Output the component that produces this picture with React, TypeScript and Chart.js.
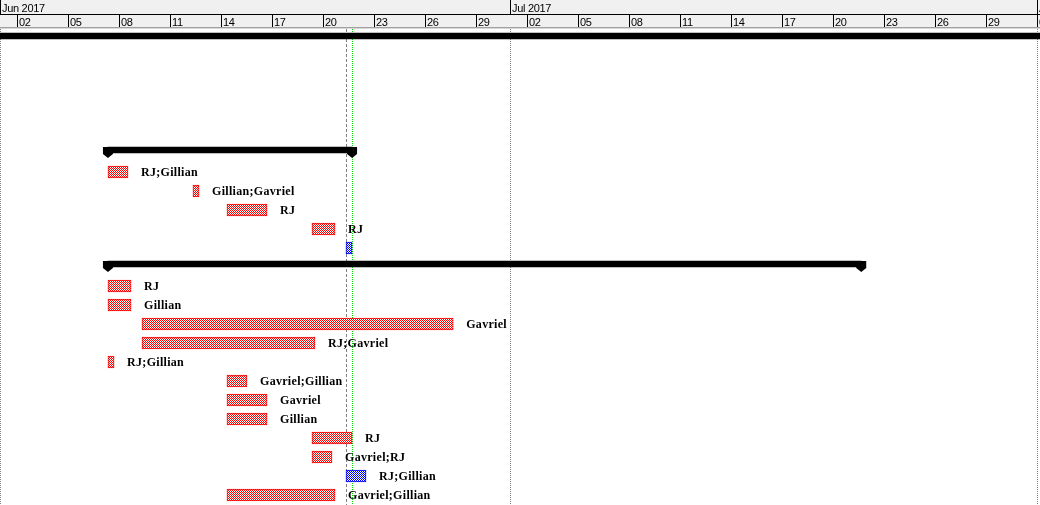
import React, { useEffect, useRef } from 'react';
import { Chart, registerables } from 'chart.js';

Chart.register(...registerables);

// ---- rows (categories), top to bottom ----
const rowLabels = [
  'Project', 'Blank 1', 'Blank 2', 'Blank 3', 'Blank 4', 'Blank 5',
  'Summary 1', 'Task 1.1', 'Task 1.2', 'Task 1.3', 'Task 1.4', 'Task 1.5',
  'Summary 2', 'Task 2.1', 'Task 2.2', 'Task 2.3', 'Task 2.4', 'Task 2.5', 'Task 2.6',
  'Task 2.7', 'Task 2.8', 'Task 2.9', 'Task 2.10', 'Task 2.11', 'Task 2.12',
];

// ---- values in days since 1 Jun 2017 00:00 ----
const summaryRows = ['Project', 'Summary 1', 'Summary 2'];
const summaryStart = [-3, 6.35, 6.35];
const summaryEnd = [64, 20.71, 50.66];

const taskRows = [
  'Task 1.1', 'Task 1.2', 'Task 1.3', 'Task 1.4', 'Task 1.5',
  'Task 2.1', 'Task 2.2', 'Task 2.3', 'Task 2.4', 'Task 2.5', 'Task 2.6',
  'Task 2.7', 'Task 2.8', 'Task 2.9', 'Task 2.10', 'Task 2.11', 'Task 2.12',
];
const taskStart = [6.35, 11.35, 13.35, 18.35, 20.35, 6.35, 6.35, 8.35, 8.35, 6.35, 13.35, 13.35, 13.35, 18.35, 18.35, 20.35, 13.35];
const taskEnd = [7.53, 11.71, 15.71, 19.71, 20.71, 7.71, 7.71, 26.66, 18.53, 6.71, 14.53, 15.71, 15.71, 20.71, 19.53, 21.53, 19.71];
const taskResources = [
  'RJ;Gillian', 'Gillian;Gavriel', 'RJ', 'RJ', '',
  'RJ', 'Gillian', 'Gavriel', 'RJ;Gavriel', 'RJ;Gillian', 'Gavriel;Gillian',
  'Gavriel', 'Gillian', 'RJ', 'Gavriel;RJ', 'RJ;Gillian', 'Gavriel;Gillian',
];
const taskIsBlue = [false, false, false, false, true, false, false, false, false, false, false, false, false, false, false, true, false];

// ---- timescale ----
const axisMinDay = 0;
const axisMaxDay = 61;
const monthLabels = ['Jun 2017', 'Jul 2017', 'Aug 2017'];
const monthStartDays = [0, 30, 61];
const dayTickLabels = ['02', '05', '08', '11', '14', '17', '20', '23', '26', '29', '02', '05', '08', '11', '14', '17', '20', '23', '26', '29', '01'];
const dayTickDays = [1, 4, 7, 10, 13, 16, 19, 22, 25, 28, 31, 34, 37, 40, 43, 46, 49, 52, 55, 58, 61];
const statusDay = 20.35;
const currentDay = 20.71;

function checker(color: string): CanvasPattern | string {
  const c = document.createElement('canvas');
  c.width = 2;
  c.height = 2;
  const g = c.getContext('2d');
  if (!g) return color;
  g.fillStyle = '#ffffff';
  g.fillRect(0, 0, 2, 2);
  g.fillStyle = color;
  g.fillRect(0, 0, 1, 1);
  g.fillRect(1, 1, 1, 1);
  return g.createPattern(c, 'repeat') || color;
}

const ganttPlugin = {
  id: 'ganttDecor',
  beforeDatasetsDraw(chart: any) {
    const { ctx } = chart;
    const xs = chart.scales.x;
    const top = 29;
    const bottom = chart.height;
    const vline = (d: number, color: string, dash: number[]) => {
      const px = Math.round(xs.getPixelForValue(d)) + 0.5;
      ctx.save();
      ctx.strokeStyle = color;
      ctx.lineWidth = 1;
      ctx.setLineDash(dash);
      ctx.beginPath();
      ctx.moveTo(px, top);
      ctx.lineTo(px, bottom);
      ctx.stroke();
      ctx.restore();
    };
    monthStartDays.forEach((d) => vline(d, '#808080', [1, 1]));
    vline(statusDay, '#808080', [3, 2]);
    vline(currentDay, '#00dd00', [1, 1]);
  },
  beforeDatasetDraw(chart: any, args: any) {
    if (args.index === 0) {
      chart.ctx.save();
      chart.ctx.translate(0, -3);
    }
  },
  afterDatasetDraw(chart: any, args: any) {
    const { ctx } = chart;
    if (args.index === 0) {
      ctx.fillStyle = '#000000';
      args.meta.data.forEach((el: any) => {
        const p = el.getProps(['x', 'y', 'base', 'height'], true);
        const t = p.y - p.height / 2;
        const b = p.y + p.height / 2;
        [p.base, p.x].forEach((xc: number) => {
          ctx.beginPath();
          ctx.moveTo(xc - 5, t);
          ctx.lineTo(xc + 5, t);
          ctx.lineTo(xc + 5, b + 1);
          ctx.lineTo(xc, b + 5);
          ctx.lineTo(xc - 5, b + 1);
          ctx.closePath();
          ctx.fill();
        });
      });
      ctx.restore();
    } else if (args.index === 1) {
      ctx.save();
      ctx.fillStyle = '#000000';
      ctx.font = 'bold 12px "Liberation Serif"';
      (ctx as any).letterSpacing = '0.3px';
      ctx.textBaseline = 'alphabetic';
      args.meta.data.forEach((el: any, i: number) => {
        const label = taskResources[i];
        if (!label) return;
        const p = el.getProps(['x', 'y', 'base'], true);
        ctx.fillText(label, Math.max(p.x, p.base) + 13, p.y + 4);
      });
      ctx.restore();
    }
  },
  afterDraw(chart: any) {
    const { ctx } = chart;
    const xs = chart.scales.x;
    const W = chart.width;
    ctx.save();
    ctx.fillStyle = '#f0f0f0';
    ctx.fillRect(0, 0, W, 27);
    ctx.fillStyle = '#000000';
    ctx.fillRect(0, 14, W, 1);
    ctx.fillStyle = '#a0a0a0';
    ctx.fillRect(0, 27, W, 1);
    ctx.fillStyle = '#d8d8d8';
    ctx.fillRect(0, 28, W, 1);
    ctx.font = '11px "Liberation Sans"';
    (ctx as any).letterSpacing = '-0.3px';
    ctx.textBaseline = 'alphabetic';
    ctx.fillStyle = '#000000';
    monthStartDays.forEach((d, i) => {
      const px = Math.round(xs.getPixelForValue(d));
      ctx.fillRect(px, 0, 1, 14);
      ctx.fillText(monthLabels[i], px + 2, 12);
    });
    dayTickDays.forEach((d, i) => {
      const px = Math.round(xs.getPixelForValue(d));
      ctx.fillRect(px, 14, 1, 13);
      ctx.fillText(dayTickLabels[i], px + 2, 26);
    });
    ctx.restore();
  },
};

export default function App() {
  const canvasRef = useRef<HTMLCanvasElement | null>(null);

  useEffect(() => {
    const canvas = canvasRef.current;
    if (!canvas) return;
    const redFill = checker('#ff0000');
    const blueFill = checker('#0000ff');

    const chart = new Chart(canvas, {
      type: 'bar',
      data: {
        labels: rowLabels,
        datasets: [
          {
            label: 'Summary',
            data: summaryRows.map((r, i) => ({ y: r, x: [summaryStart[i], summaryEnd[i]] })) as any,
            backgroundColor: '#000000',
            borderWidth: 0,
            barThickness: 6,
            grouped: false,
            clip: false as any,
          },
          {
            label: 'Tasks',
            data: taskRows.map((r, i) => ({ y: r, x: [taskStart[i], taskEnd[i]] })) as any,
            backgroundColor: taskIsBlue.map((b) => (b ? blueFill : redFill)) as any,
            borderColor: taskIsBlue.map((b) => (b ? '#0000ff' : '#ff0000')),
            borderWidth: 1,
            borderSkipped: false,
            barThickness: 12,
            grouped: false,
          },
        ],
      },
      options: {
        indexAxis: 'y',
        responsive: false,
        maintainAspectRatio: false,
        animation: false,
        events: [],
        layout: { padding: { left: 0, right: 3, top: 29.5, bottom: 0.5 } },
        scales: {
          x: { type: 'linear', min: axisMinDay, max: axisMaxDay, display: false },
          y: { type: 'category', labels: rowLabels, offset: true, display: false },
        },
        plugins: {
          legend: { display: false },
          tooltip: { enabled: false },
        },
      },
      plugins: [ganttPlugin],
    });

    return () => chart.destroy();
  }, []);

  return (
    <div style={{ position: 'fixed', left: 0, top: 0, width: 1040, height: 505, background: '#ffffff' }}>
      <canvas ref={canvasRef} width={1040} height={505} style={{ display: 'block' }} />
    </div>
  );
}
